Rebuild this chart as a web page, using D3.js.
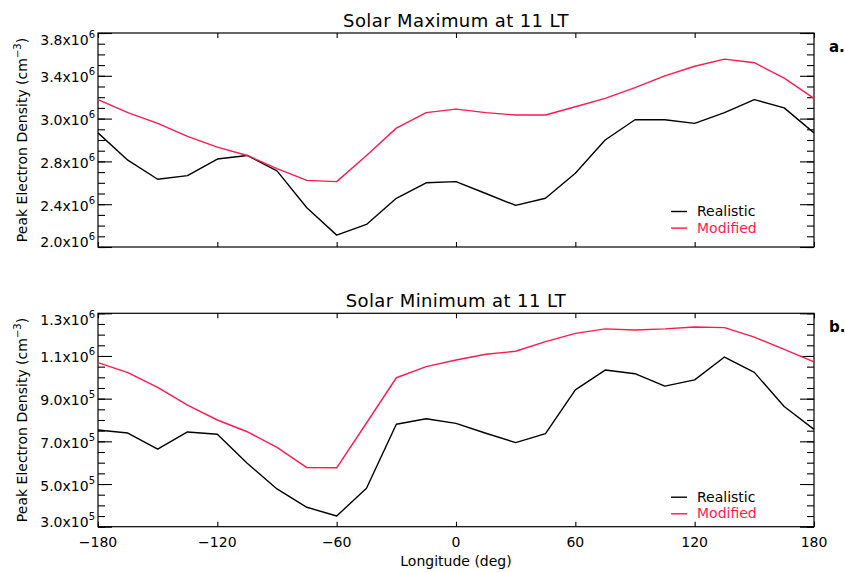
<!DOCTYPE html>
<html>
<head>
<meta charset="utf-8">
<script src="https://cdn.jsdelivr.net/npm/d3@7"></script>
<style>
  body { margin: 0; background: #fff; }
  svg { display: block; font-family: "DejaVu Sans", sans-serif; }
  .frame { fill: none; stroke: #000; stroke-width: 1.2; }
  .tick line { stroke: #000; stroke-width: 1.1; }
  .domain { display: none; }
  .series { fill: none; stroke-width: 1.4; stroke-linejoin: round; }
</style>
</head>
<body>
<script>
// longitudes (deg)
var lon = [-180, -165, -150, -135, -120, -105, -90, -75, -60, -45, -30, -15,
    0, 15, 30, 45, 60, 75, 90, 105, 120, 135, 150, 165, 180];

// solar maximum, 11 LT
var maxRealistic = [2.96e6, 2.73e6, 2.57e6, 2.60e6, 2.74e6, 2.77e6, 2.64e6, 2.33e6, 2.10e6,
    2.19e6, 2.41e6, 2.54e6, 2.55e6, 2.45e6, 2.35e6, 2.41e6, 2.62e6, 2.90e6, 3.07e6,
    3.07e6, 3.04e6, 3.13e6, 3.24e6, 3.17e6, 2.96e6];
var maxModified = [3.24e6, 3.13e6, 3.04e6, 2.93e6, 2.84e6, 2.77e6, 2.66e6, 2.56e6, 2.55e6,
    2.77e6, 3.00e6, 3.13e6, 3.16e6, 3.13e6, 3.11e6, 3.11e6, 3.18e6, 3.25e6, 3.34e6,
    3.44e6, 3.52e6, 3.58e6, 3.55e6, 3.42e6, 3.25e6];

// solar minimum, 11 LT
var minRealistic = [7.53e5, 7.39e5, 6.64e5, 7.44e5, 7.33e5, 5.97e5, 4.77e5, 3.91e5, 3.50e5,
    4.80e5, 7.80e5, 8.06e5, 7.84e5, 7.38e5, 6.94e5, 7.36e5, 9.41e5, 1.034e6, 1.017e6,
    9.59e5, 9.88e5, 1.095e6, 1.023e6, 8.63e5, 7.56e5];
var minModified = [1.069e6, 1.022e6, 9.53e5, 8.70e5, 8.00e5, 7.45e5, 6.72e5, 5.77e5, 5.76e5,
    7.86e5, 9.98e5, 1.050e6, 1.081e6, 1.108e6, 1.122e6, 1.167e6, 1.206e6, 1.227e6, 1.222e6,
    1.227e6, 1.236e6, 1.233e6, 1.188e6, 1.131e6, 1.072e6];

var xTicks = [-180, -120, -60, 0, 60, 120, 180];

var maxDomain = [2.0e6, 3.8e6];
var maxTicks = [2.0e6, 2.36e6, 2.72e6, 3.08e6, 3.44e6, 3.8e6];
var maxTickMant = ['2.0', '2.4', '2.8', '3.0', '3.4', '3.8'];
var maxTickExp = ['6', '6', '6', '6', '6', '6'];

var minDomain = [3e5, 1.3e6];
var minTicks = [3e5, 5e5, 7e5, 9e5, 1.1e6, 1.3e6];
var minTickMant = ['3.0', '5.0', '7.0', '9.0', '1.1', '1.3'];
var minTickExp = ['5', '5', '5', '5', '6', '6'];

var seriesNames = ['Realistic', 'Modified'];
var seriesColors = ['#000000', '#ff1a4e'];

var width = 845,
    height = 572,
    left = 98,
    right = 814;

var svg = d3.select('body').append('svg')
    .attr('width', width)
    .attr('height', height);

var x = d3.scaleLinear()
    .domain([-180, 180])
    .range([left, right]);

var panels = [
    {title: 'Solar Maximum at 11 LT', tag: 'a.', top: 33, bottom: 247,
        domain: maxDomain, ticks: maxTicks, mant: maxTickMant, exp: maxTickExp,
        series: [maxRealistic, maxModified], legendY: 216, xLabels: false},
    {title: 'Solar Minimum at 11 LT', tag: 'b.', top: 313.3, bottom: 526.7,
        domain: minDomain, ticks: minTicks, mant: minTickMant, exp: minTickExp,
        series: [minRealistic, minModified], legendY: 501.7, xLabels: true}
];

panels.forEach(function(p) {
    var y = d3.scaleLinear()
        .domain(p.domain)
        .range([p.bottom, p.top]);

    var g = svg.append('g');

    // minor y ticks: 4 per major interval
    var step = (p.ticks[1] - p.ticks[0]) / 4;
    var minor = d3.range(p.domain[0], p.domain[1] + step / 2, step);

    g.append('g')
        .attr('transform', 'translate(' + left + ',0)')
        .call(d3.axisLeft(y).tickValues(minor).tickSize(-7).tickFormat(''));
    g.append('g')
        .attr('transform', 'translate(' + right + ',0)')
        .call(d3.axisRight(y).tickValues(minor).tickSize(-7).tickFormat(''));
    g.append('g')
        .attr('transform', 'translate(' + left + ',0)')
        .call(d3.axisLeft(y).tickValues(p.ticks).tickSize(-14).tickFormat(''));
    g.append('g')
        .attr('transform', 'translate(' + right + ',0)')
        .call(d3.axisRight(y).tickValues(p.ticks).tickSize(-14).tickFormat(''));

    g.append('g')
        .attr('transform', 'translate(0,' + p.bottom + ')')
        .call(d3.axisBottom(x).tickValues(xTicks).tickSize(-5).tickFormat(''));
    g.append('g')
        .attr('transform', 'translate(0,' + p.top + ')')
        .call(d3.axisTop(x).tickValues(xTicks).tickSize(-5).tickFormat(''));

    g.append('rect')
        .attr('class', 'frame')
        .attr('x', left)
        .attr('y', p.top)
        .attr('width', right - left)
        .attr('height', p.bottom - p.top);

    // y tick labels, end ones nudged inside like the original
    var labels = g.append('g').selectAll('text')
        .data(p.ticks).enter()
        .append('text')
        .attr('x', 95)
        .attr('y', function(d, i) {
            var off = 6.5;
            if (i === 0) off = 0;
            if (i === p.ticks.length - 1) off = 12;
            return y(d) + off;
        })
        .attr('text-anchor', 'end')
        .style('font-size', '14px');
    labels.append('tspan')
        .text(function(d, i) { return p.mant[i] + 'x10'; });
    labels.append('tspan')
        .attr('dy', -7)
        .style('font-size', '10px')
        .text(function(d, i) { return p.exp[i]; });

    if (p.xLabels) {
        g.append('g').selectAll('text')
            .data(xTicks).enter()
            .append('text')
            .attr('x', d => x(d))
            .attr('y', p.bottom + 20.5)
            .attr('text-anchor', 'middle')
            .style('font-size', '14px')
            .text(d => d < 0 ? '\u2212' + Math.abs(d) : d);

        g.append('text')
            .attr('x', (left + right) / 2)
            .attr('y', p.bottom + 39)
            .attr('text-anchor', 'middle')
            .style('font-size', '14px')
            .text('Longitude (deg)');
    }

    g.append('text')
        .attr('x', (left + right) / 2)
        .attr('y', p.top - 6)
        .attr('text-anchor', 'middle')
        .style('font-size', '18px')
        .style('letter-spacing', '0.4px')
        .text(p.title);

    g.append('text')
        .attr('x', 829)
        .attr('y', p.top + 18.5)
        .style('font-size', '15px')
        .style('font-weight', 'bold')
        .text(p.tag);

    var ytitle = g.append('text')
        .attr('transform', 'translate(27,' + (p.top + p.bottom) / 2 + ') rotate(-90)')
        .attr('text-anchor', 'middle')
        .style('font-size', '14px');
    ytitle.append('tspan').text('Peak Electron Density (cm');
    ytitle.append('tspan').attr('dy', -6).style('font-size', '10px').text('\u22123');
    ytitle.append('tspan').attr('dy', 6).text(')');

    var line = d3.line()
        .x((d, i) => x(lon[i]))
        .y(d => y(d));

    g.append('g').selectAll('path')
        .data(p.series).enter()
        .append('path')
        .attr('class', 'series')
        .attr('stroke', (d, i) => seriesColors[i])
        .attr('d', line);

    var legend = g.append('g').selectAll('g')
        .data(seriesNames).enter()
        .append('g')
        .attr('transform', (d, i) => 'translate(0,' + (p.legendY + i * 16.6) + ')');
    legend.append('line')
        .attr('x1', 671)
        .attr('x2', 687)
        .attr('y1', -4.5)
        .attr('y2', -4.5)
        .attr('stroke', (d, i) => seriesColors[i])
        .attr('stroke-width', 1.4);
    legend.append('text')
        .attr('x', 697)
        .attr('y', 0)
        .style('font-size', '14px')
        .attr('fill', (d, i) => seriesColors[i])
        .text(d => d);
});
</script>
</body>
</html>
